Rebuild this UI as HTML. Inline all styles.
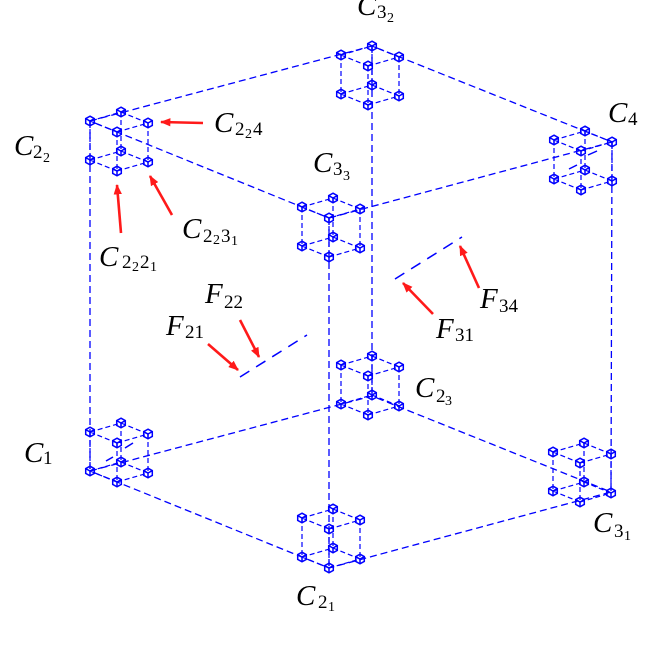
<!DOCTYPE html>
<html>
<head>
<meta charset="utf-8">
<style>
html,body{margin:0;padding:0;background:#fff;}
svg{display:block;}
text{font-family:"Liberation Serif",serif;fill:#000;}
.m{font-style:italic;font-size:29px;}
.s{font-size:19px;}
.ss{font-size:14px;}
</style>
</head>
<body>
<svg width="655" height="655" viewBox="0 0 655 655" xmlns="http://www.w3.org/2000/svg">
<defs>
  <g id="nd" fill="none" stroke="#0000ff" stroke-width="1.5">
    <polygon points="0,-4.8 4.3,-2.4 4.3,2.4 0,4.8 -4.3,2.4 -4.3,-2.4"/>
    <polyline points="-4.3,-2.4 0,0 4.3,-2.4"/>
    <line x1="0" y1="0" x2="0" y2="4.8"/>
  </g>
  <g id="sc">
    <g fill="none" stroke="#0000ff" stroke-width="1.2" stroke-dasharray="5 3">
      <path d="M0,0 L31,-9 M0,0 L27,11 M31,-9 L58,2 M27,11 L58,2
               M0,39 L31,30 M0,39 L27,50 M31,30 L58,41 M27,50 L58,41
               M0,0 L0,39 M31,-9 L31,30 M27,11 L27,50 M58,2 L58,41"/>
    </g>
    <use href="#nd" x="0" y="0"/>
    <use href="#nd" x="31" y="-9"/>
    <use href="#nd" x="27" y="11"/>
    <use href="#nd" x="58" y="2"/>
    <use href="#nd" x="0" y="39"/>
    <use href="#nd" x="31" y="30"/>
    <use href="#nd" x="27" y="50"/>
    <use href="#nd" x="58" y="41"/>
  </g>
  <marker id="ah" viewBox="0 0 10 8" refX="9" refY="4" markerWidth="4" markerHeight="3.2" orient="auto" markerUnits="strokeWidth">
    <path d="M0,0 L10,4 L0,8 z" fill="#ff1a1a"/>
  </marker>
</defs>

<!-- big cube -->
<g fill="none" stroke="#0000ff" stroke-width="1.3" stroke-dasharray="7 4">
  <path d="M90,121 L372,46 L612,142 L329,218 Z"/>
  <path d="M90,471 L372,396 L611,492 L329,568 Z"/>
  <path d="M90,121 L90,471 M372,46 L372,396 M612,142 L611,492 M329,218 L329,568"/>
</g>

<!-- small cubes -->
<use href="#sc" x="90" y="121"/>
<use href="#sc" x="341" y="55"/>
<use href="#sc" x="302" y="207"/>
<use href="#sc" x="554" y="140"/>
<use href="#sc" x="90" y="432"/>
<use href="#sc" x="341" y="365"/>
<use href="#sc" x="302" y="518"/>
<use href="#sc" x="553" y="452"/>

<!-- face segments -->
<g fill="none" stroke="#0000ff" stroke-width="1.5">
  <line x1="240" y1="377" x2="307" y2="335" stroke-dasharray="11 8"/>
  <line x1="395" y1="279" x2="462" y2="237" stroke-dasharray="11 8"/>
  <line x1="106" y1="461" x2="113" y2="457"/>
  <line x1="125" y1="448" x2="133" y2="443"/>
  <line x1="569" y1="169" x2="577" y2="165"/>
  <line x1="588" y1="155" x2="597" y2="151"/>
</g>

<!-- red arrows -->
<g stroke="#ff1a1a" stroke-width="2.6" fill="none" marker-end="url(#ah)">
  <line x1="203" y1="123" x2="161" y2="122"/>
  <line x1="121" y1="233" x2="117" y2="185"/>
  <line x1="172" y1="215" x2="150" y2="176"/>
  <line x1="208" y1="344" x2="238" y2="370"/>
  <line x1="240" y1="320" x2="259" y2="357"/>
  <line x1="433" y1="314" x2="403" y2="283"/>
  <line x1="479" y1="288" x2="460" y2="246"/>
</g>

<!-- labels -->
<text class="m" x="357" y="15">C</text><text class="s" x="377" y="18">3</text><text class="ss" x="387" y="22">2</text>

<text class="m" x="14" y="155">C</text><text class="s" x="33" y="158">2</text><text class="ss" x="43" y="162">2</text>

<text class="m" x="214" y="132">C</text><text class="s" x="235" y="135">2</text><text class="ss" x="245" y="138">2</text><text class="s" x="253" y="135">4</text>

<text class="m" x="182" y="238">C</text><text class="s" x="203" y="242">2</text><text class="ss" x="213" y="244">2</text><text class="s" x="221" y="242">3</text><text class="ss" x="231" y="245">1</text>

<text class="m" x="99" y="266">C</text><text class="s" x="122" y="268">2</text><text class="ss" x="132" y="271">2</text><text class="s" x="140" y="268">2</text><text class="ss" x="150" y="271">1</text>

<text class="m" x="313" y="172">C</text><text class="s" x="333" y="175">3</text><text class="ss" x="343" y="180">3</text>

<text class="m" x="608" y="122">C</text><text class="s" x="628" y="125">4</text>

<text class="m" x="415" y="397">C</text><text class="s" x="436" y="402">2</text><text class="ss" x="445" y="405">3</text>

<text class="m" x="24" y="462">C</text><text class="s" x="43" y="464">1</text>

<text class="m" x="296" y="605">C</text><text class="s" x="318" y="608">2</text><text class="ss" x="328" y="611">1</text>

<text class="m" x="593" y="532">C</text><text class="s" x="614" y="537">3</text><text class="ss" x="624" y="540">1</text>

<text class="m" x="205" y="303">F</text><text class="s" x="224" y="308">22</text>
<text class="m" x="166" y="335">F</text><text class="s" x="185" y="338">21</text>
<text class="m" x="436" y="338">F</text><text class="s" x="455" y="341">31</text>
<text class="m" x="480" y="308">F</text><text class="s" x="499" y="312">34</text>
</svg>
</body>
</html>
